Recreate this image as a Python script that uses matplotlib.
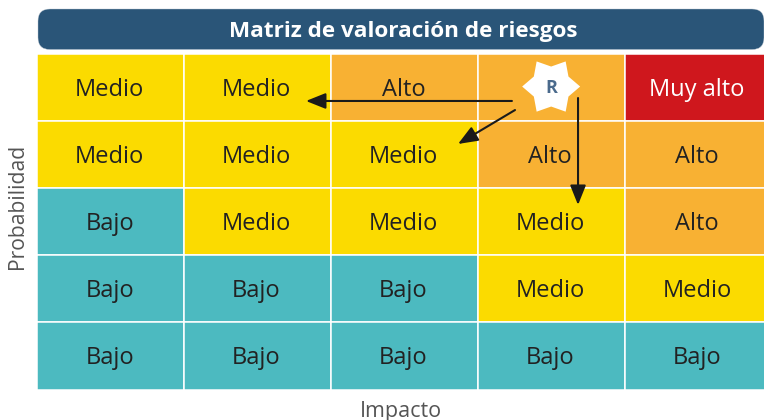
import matplotlib
matplotlib.use("Agg")
import matplotlib.pyplot as plt
from matplotlib.patches import FancyBboxPatch, Polygon
import numpy as np

plt.rcParams['font.family'] = ['Open Sans', 'DejaVu Sans']

title = "Matriz de valoración de riesgos"
xlabel = "Impacto"
ylabel = "Probabilidad"
risk_marker = "R"
levels = [
    ["Medio", "Medio", "Alto", "Alto", "Muy alto"],
    ["Medio", "Medio", "Medio", "Alto", "Alto"],
    ["Bajo", "Medio", "Medio", "Medio", "Alto"],
    ["Bajo", "Bajo", "Bajo", "Medio", "Medio"],
    ["Bajo", "Bajo", "Bajo", "Bajo", "Bajo"],
]
marker_row = 0
marker_col = 3
palette = {"Bajo": "#4cbac0", "Medio": "#fbdb00", "Alto": "#f8b133", "Muy alto": "#cf171d"}
text_colors = {"Bajo": "#222222", "Medio": "#222222", "Alto": "#222222", "Muy alto": "#ffffff"}

W, H = 764, 420
fig = plt.figure(figsize=(W/100, H/100), dpi=100, facecolor="white")

# matrix axes: 5 x 5 cells, inverted y so row 0 is on top; last column runs off the figure
L, R, T, B = 37, 771.5, 54, 389.5
ax = fig.add_axes([L/W, 1-B/H, (R-L)/W, (B-T)/H])
ax.set_xlim(0, 5); ax.set_ylim(5, 0); ax.axis("off")
for r, row in enumerate(levels):
    for c, lv in enumerate(row):
        ax.bar(c+0.5, 1, bottom=r, width=1, color=palette[lv], edgecolor="white", linewidth=1.1)
        if (r, c) != (marker_row, marker_col):
            ax.text(c+0.494, r+0.535, lv, ha="center", va="center", fontsize=17, color=text_colors[lv])

# full-figure overlay in pixel units for the header and axis names
ov = fig.add_axes([0, 0, 1, 1], zorder=-1)
ov.set_xlim(0, W); ov.set_ylim(H, 0); ov.axis("off")
ov.add_patch(FancyBboxPatch((50, 21), 702, 16.5, boxstyle="round,pad=12,rounding_size=12",
                            fc="#2a5578", ec="#b8c4cf", lw=0.3))
ov.text(403, 31, title, ha="center", va="center", fontsize=16.2, fontweight="bold", color="white")
ov.text(400.5, 411, xlabel, ha="center", va="center", fontsize=15.5, color="#555555")
ov.text(18, 206, ylabel, ha="center", va="center", rotation=90, fontsize=15.2, color="#555555")

# risk marker
cx, cy = marker_col + 0.5, marker_row + 0.5
sx, sy = 1/146.9, 1/67.1
n = 6
ang = np.deg2rad(np.arange(2*n)*180/n)
rad = np.where(np.arange(2*n) % 2 == 0, 29, 20)
star = Polygon(np.c_[cx + rad*np.cos(ang)*sx, cy - 0.015 + rad*np.sin(ang)*sy], closed=True, fc="white", ec="none", zorder=5)
ax.add_patch(star)
ax.text(cx, cy + 0.01, risk_marker, ha="center", va="center", fontsize=13, fontweight="bold", color="#4a6a8c", zorder=6)

# arrows
arrow = dict(arrowstyle="-|>,head_length=0.75,head_width=0.3", color="#1a1a1a", lw=1.5, shrinkA=0, shrinkB=0, mutation_scale=16)
for start, end in [((3.233, 0.70), (1.831, 0.70)), ((3.254, 0.835), (2.866, 1.341)), ((3.683, 0.656), (3.683, 2.25))]:
    ax.annotate("", xy=end, xytext=start, arrowprops=arrow, zorder=7)

fig.savefig("out.png", dpi=100)
